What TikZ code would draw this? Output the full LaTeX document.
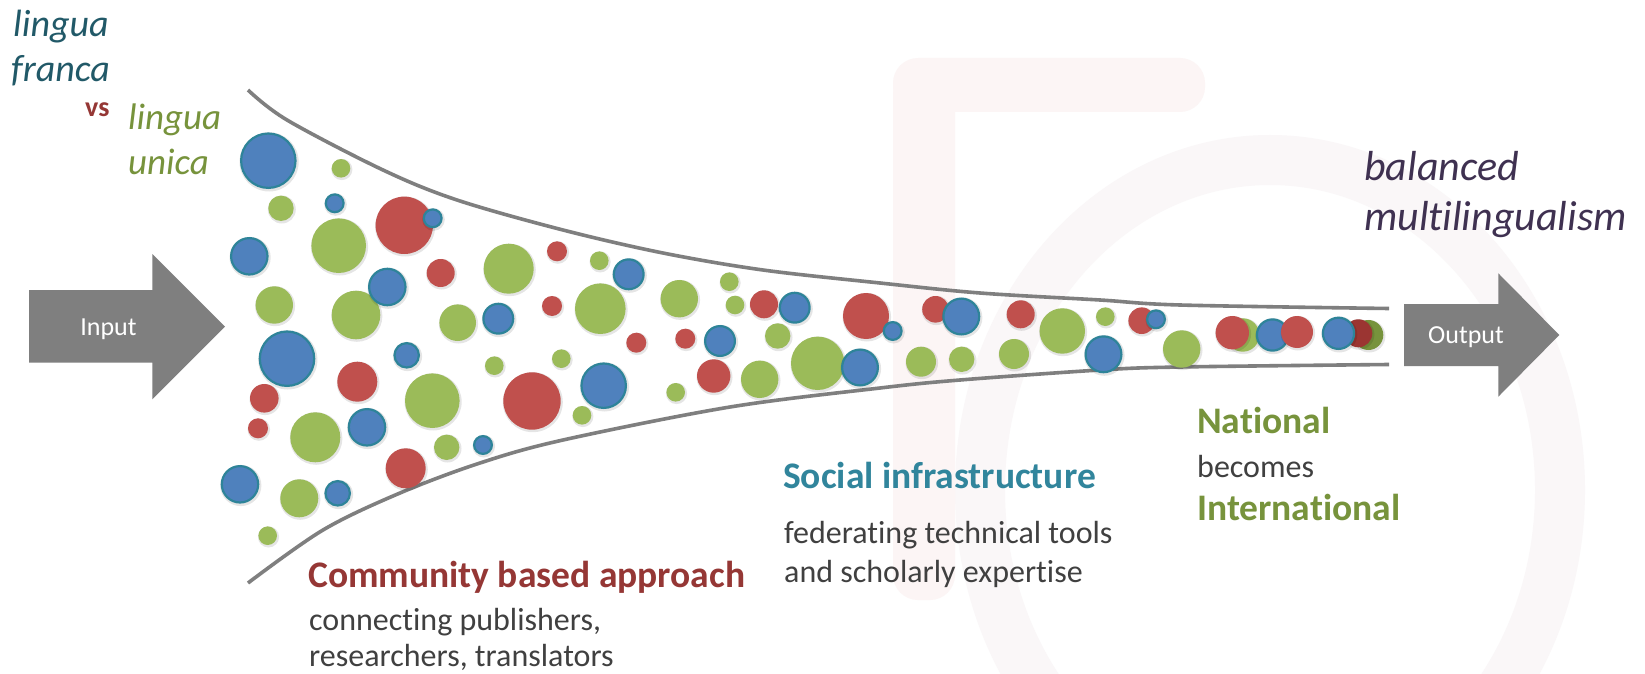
\documentclass[tikz,border=0pt]{standalone}
\usepackage{fontspec}
\setmainfont{Carlito}[Ligatures={NoCommon,NoRequired}]
\definecolor{bubB}{HTML}{4F81BD}
\definecolor{bubBd}{HTML}{2E8499}
\definecolor{bubR}{HTML}{C0504D}
\definecolor{bubG}{HTML}{9BBB59}
\definecolor{bubRd}{HTML}{9B3532}
\definecolor{bubGd}{HTML}{77933C}
\definecolor{tealtxt}{HTML}{215968}
\definecolor{redtxt}{HTML}{953735}
\definecolor{greentxt}{HTML}{77933C}
\definecolor{purptxt}{HTML}{3F3151}
\definecolor{socialtxt}{HTML}{31859C}
\definecolor{bodytxt}{HTML}{404040}
\definecolor{arrowgray}{HTML}{7F7F7F}
\definecolor{wmA}{HTML}{FCF5F5}
\definecolor{wmB}{HTML}{FAF7F8}
\newcommand\BubShadow[3]{\fill[black,opacity=0.10] (#1+0.8,#2+1.2) circle[radius=#3pt+1.3pt];}
\newcommand\BubG[3]{\BubShadow{#1}{#2}{#3}\fill[bubG] (#1,#2) circle[radius=#3pt];}
\newcommand\BubGd[3]{\BubShadow{#1}{#2}{#3}\fill[bubGd] (#1,#2) circle[radius=#3pt];}
\newcommand\BubR[3]{\BubShadow{#1}{#2}{#3}\fill[bubR] (#1,#2) circle[radius=#3pt];}
\newcommand\BubRd[3]{\BubShadow{#1}{#2}{#3}\fill[bubRd] (#1,#2) circle[radius=#3pt];}
\newcommand\BubB[3]{\BubShadow{#1}{#2}{#3}\filldraw[fill=bubB,draw=bubBd,line width=2.2pt] (#1,#2) circle[radius=#3pt-1.1pt];}
\begin{document}
\begin{tikzpicture}[x=1pt,y=-1pt,
  funnel/.style={draw=arrowgray,line width=3.6pt},
  bigarrow/.style={fill=arrowgray},
  arrowtxt/.style={text=white,font=\fontsize{26}{30}\selectfont,anchor=base,inner sep=0pt},
  ital/.style={font=\fontsize{38}{45}\selectfont\itshape,anchor=base west,inner sep=0pt},
  head/.style={font=\fontsize{37.5}{44}\selectfont\bfseries,anchor=base west,inner sep=0pt},
  body/.style={font=\fontsize{32}{38}\selectfont,text=bodytxt,anchor=base west,inner sep=0pt}]
\useasboundingbox (0,0) rectangle (1645,674);
\fill[white] (0,0) rectangle (1645,674);
% faint watermark
\draw[wmB,line width=50pt] (1270,490) ellipse[x radius=290pt,y radius=330pt];
\fill[wmA,rounded corners=25pt] (893,70) rectangle (955,600);
\fill[wmA,rounded corners=25pt] (893,58) rectangle (1205,112);
% funnel
\draw[funnel] plot[smooth,tension=0.55] coordinates {(248,90) (287,120) (383,170) (457,200) (563,230) (663,253) (763,270) (880,283) (980,293) (1100,300) (1180,305) (1389,308.5)};
\draw[funnel] plot[smooth,tension=0.55] coordinates {(248,583) (323,530) (400,493) (480,463) (563,440) (730,407) (880,388) (960,380) (1100,370) (1180,367) (1389,364.5)};
% arrows
\fill[bigarrow] (29,290) -- (152.3,290) -- (152.3,254) -- (225,326.6) -- (152.3,399.3) -- (152.3,362.7) -- (29,362.7) -- cycle;
\node[arrowtxt] (input) at (108.5,335) {Input};
\fill[bigarrow] (1404,304) -- (1498.3,304) -- (1498.3,273.3) -- (1559.3,335) -- (1498.3,396.7) -- (1498.3,366) -- (1404,366) -- cycle;
\node[arrowtxt] (output) at (1466,343.3) {Output};
% green bubbles
\BubG{341}{168.3}{9.3}
\BubG{281}{208.3}{12.7}
\BubG{338.7}{245.7}{27.3}
\BubG{274.3}{305}{18.7}
\BubG{356}{315}{24.3}
\BubG{457.7}{322.7}{18.3}
\BubG{432.3}{400.7}{27.3}
\BubG{315.3}{437.3}{25}
\BubG{446.7}{447.3}{12.7}
\BubG{299.3}{498.3}{19}
\BubG{267.7}{535.7}{9.3}
\BubG{508.7}{268.7}{25}
\BubG{599.3}{260.7}{9.3}
\BubG{600.3}{308.7}{25.3}
\BubG{679.3}{298.7}{18.7}
\BubG{729.3}{281.7}{9.3}
\BubG{735}{305}{9.3}
\BubG{777.7}{336}{12.7}
\BubG{494.3}{365.7}{9.3}
\BubG{561.3}{358.7}{9.3}
\BubG{759.7}{379.3}{18.7}
\BubG{817.7}{363.3}{26.7}
\BubG{675.7}{392.3}{9.3}
\BubG{582}{415.3}{9.3}
\BubG{921}{361.7}{15}
\BubG{961.7}{359.3}{12.7}
\BubG{1062.3}{331}{22.7}
\BubG{1105.3}{316.7}{9.3}
\BubG{1014}{354}{15}
\BubG{1181.7}{349}{18.7}
% red bubbles
\BubR{404.3}{225.3}{28.7}
\BubR{440.7}{273}{14}
\BubR{357.3}{381.7}{20}
\BubR{264.3}{398.3}{14.3}
\BubR{258}{428.3}{10}
\BubR{405.7}{468.3}{20}
\BubR{557}{251.3}{10}
\BubR{552}{306}{10}
\BubR{636.3}{342.7}{10}
\BubR{685.3}{338.7}{10}
\BubR{764}{304.3}{14}
\BubR{713.7}{376}{16.7}
\BubR{532}{401}{28.7}
\BubR{866}{316}{23}
\BubR{935.5}{309.3}{13.3}
\BubR{1020.7}{314.3}{14}
\BubR{1141.7}{320.7}{13.3}
% blue bubbles
\BubB{268.3}{160.7}{28.3}
\BubB{334.7}{203.3}{10}
\BubB{249.3}{256.3}{19.3}
\BubB{387.3}{287}{19.3}
\BubB{287}{358.7}{28.3}
\BubB{406.7}{355.3}{13.3}
\BubB{367}{427.3}{19.3}
\BubB{240}{484.3}{19.3}
\BubB{337.7}{493.3}{13.3}
\BubB{483}{445}{10}
\BubB{432.7}{218.3}{10}
\BubB{628.7}{274.3}{16}
\BubB{498.3}{318.7}{16}
\BubB{720}{341}{16}
\BubB{603.7}{385.7}{23.3}
\BubB{794.7}{307.7}{16}
\BubB{860}{367.5}{19}
\BubB{892.7}{331}{10}
\BubB{961.3}{316.5}{19}
\BubB{1103.5}{354.3}{19}
\BubB{1156}{319.3}{10}
% cluster at the narrow end
\BubG{1242.7}{335}{16.7}
\BubR{1232.3}{332.7}{16.7}
\BubB{1272.5}{335}{16.7}
\BubR{1297}{332}{16}
\BubGd{1368.3}{335}{15}
\BubRd{1358.3}{333.3}{14}
\BubB{1338.5}{333.3}{16.7}
% texts
\node[ital,text=tealtxt] (lf1) at (13,37) {lingua};
\node[ital,text=tealtxt] (lf2) at (11,82) {franca};
\node[font=\fontsize{28}{32}\selectfont\bfseries,text=redtxt,anchor=base west,inner sep=0pt] (vs) at (85,117) {vs};
\node[ital,text=greentxt,font=\fontsize{37}{44}\selectfont\itshape] (lu1) at (128,129) {lingua};
\node[ital,text=greentxt,font=\fontsize{37}{44}\selectfont\itshape] (lu2) at (128,174) {unica};
\node[ital,text=purptxt,font=\fontsize{42}{49}\selectfont\itshape] (bal1) at (1364,180) {balanced};
\node[ital,text=purptxt,font=\fontsize{42}{49}\selectfont\itshape] (bal2) at (1364,230) {multilingualism};
\node[head,text=greentxt] (nat) at (1197,433) {National};
\node[body] (bec) at (1197,477) {becomes};
\node[head,text=greentxt] (intl) at (1197,520) {International};
\node[head,text=socialtxt] (soc) at (783,488) {Social infrastructure};
\node[body] (soc1) at (784,543) {federating technical tools};
\node[body] (soc2) at (784,582) {and scholarly expertise};
\node[head,text=redtxt] (comm) at (308,587) {Community based approach};
\node[body] (comm1) at (309,630) {connecting publishers,};
\node[body] (comm2) at (309,666) {researchers, translators};
\end{tikzpicture}
\end{document}
